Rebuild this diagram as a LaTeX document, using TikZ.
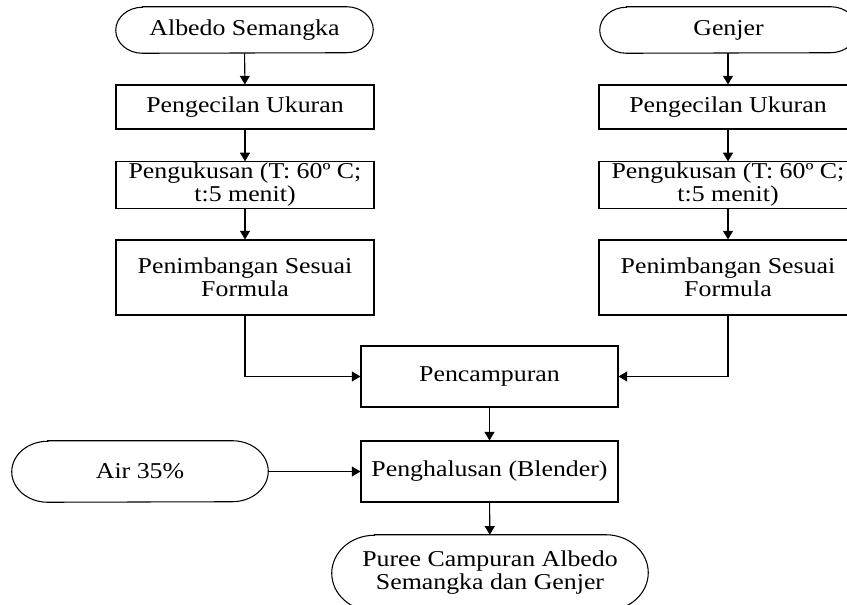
\documentclass[tikz,border=0pt]{standalone}
\usepackage{fontspec}
\setmainfont[FakeStretch=1.14]{Liberation Serif}
\usetikzlibrary{arrows.meta}
\newcommand\mytermoutline[3]{%
  \draw[outl] ([xshift=#2]#1.north west) -- ([xshift=-#2]#1.north east)
    arc[start angle=90,end angle=-90,x radius=#2,y radius=#3]
    -- ([xshift=#2]#1.south west)
    arc[start angle=270,end angle=90,x radius=#2,y radius=#3] -- cycle;}
\tikzset{
  txt/.style={font=\fontsize{17}{17.25}\selectfont, align=center, inner sep=1pt},
  procbox/.style={txt, draw, line width=0.8pt, minimum width=193.5pt},
  termnode/.style={txt, minimum width=192.75pt},
  outl/.style={line width=0.8pt},
  arr/.style={line width=0.8pt, -{Triangle[length=6.5pt,width=7.5pt]}}
}
\begin{document}
\begin{tikzpicture}[x=0.75pt,y=-0.75pt]
\useasboundingbox (0,0) rectangle (847,605);
\clip (0,0) rectangle (847,605);
% left column
\node[termnode, minimum height=34.5pt] (alb) at (244.5,30) {Albedo Semangka};
\node[procbox, minimum height=33pt] (pu1) at (245,107) {Pengecilan Ukuran};
\node[procbox, minimum height=34.5pt] (pk1) at (245,185) {Pengukusan (T: 60º C;\\t:5 menit)};
\node[procbox, minimum height=56.25pt] (ps1) at (245,277.5) {Penimbangan Sesuai\\Formula};
% right column
\node[termnode, minimum height=34.5pt] (gen) at (728.5,30) {Genjer};
\node[procbox, minimum height=33pt] (pu2) at (728,107) {Pengecilan Ukuran};
\node[procbox, minimum height=34.5pt] (pk2) at (728,185) {Pengukusan (T: 60º C;\\t:5 menit)};
\node[procbox, minimum height=56.25pt] (ps2) at (728,277.5) {Penimbangan Sesuai\\Formula};
% center
\node[procbox, minimum width=192.75pt, minimum height=45.75pt] (mix) at (489.5,376.5) {Pencampuran};
\node[procbox, minimum width=192.75pt, minimum height=45.75pt] (blend) at (489.5,471.5) {Penghalusan (Blender)};
\node[termnode, minimum width=192pt, minimum height=45.75pt] (air) at (140,471.5) {Air 35\%};
\node[termnode, minimum width=237pt, minimum height=57pt] (fin) at (490,573) {Puree Campuran Albedo\\Semangka dan Genjer};
% outlines of terminators
\mytermoutline{alb}{20pt}{17.25pt}
\mytermoutline{gen}{20pt}{17.25pt}
\mytermoutline{air}{27pt}{22.875pt}
\mytermoutline{fin}{32pt}{28.5pt}
% connectors
\draw[arr] (alb) -- (pu1);
\draw[arr] (pu1) -- (pk1);
\draw[arr] (pk1) -- (ps1);
\draw[arr] (gen.south -| pu2.north) -- (pu2);
\draw[arr] (pu2) -- (pk2);
\draw[arr] (pk2) -- (ps2);
\draw[arr] (ps1.south) |- (mix.west);
\draw[arr] (ps2.south) |- (mix.east);
\draw[arr] (mix) -- (blend);
\draw[arr] (air) -- (blend);
\draw[arr] (blend) -- (fin);
\end{tikzpicture}
\end{document}
